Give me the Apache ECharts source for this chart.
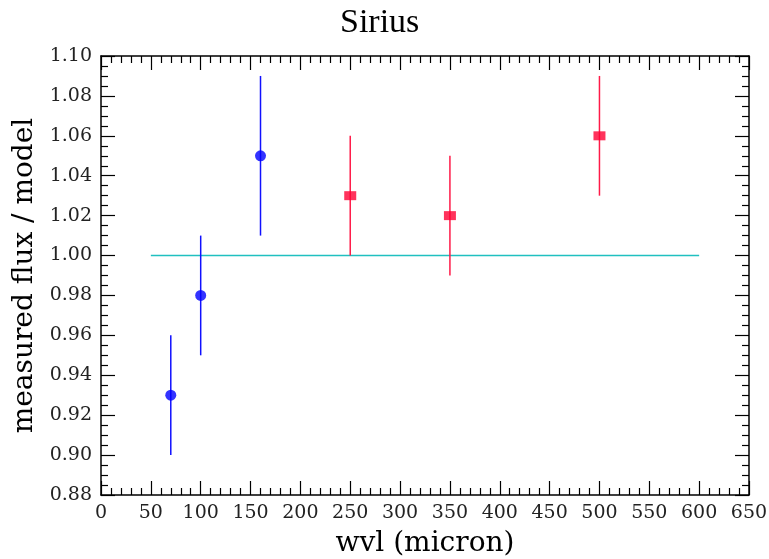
<!DOCTYPE html>
<html>
<head>
<meta charset="utf-8">
<script src="https://cdn.jsdelivr.net/npm/echarts@6/dist/echarts.min.js"></script>
<style>html,body{margin:0;padding:0;background:#fff}#c{width:769px;height:559px}</style>
</head>
<body>
<div id="c"></div>
<script>
const titleText = 'Sirius';
const xName = 'wvl (micron)';
const yName = 'measured flux / model';
const blueX = [70, 100, 160];
const blueY = [0.93, 0.98, 1.05];
const blueErr = [0.03, 0.03, 0.04];
const redX = [250, 350, 500];
const redY = [1.03, 1.02, 1.06];
const redErr = [0.03, 0.03, 0.03];
const refX = [50, 600];
const refY = [1.0, 1.0];

const font = 'DejaVu Serif';
const chart = echarts.init(document.getElementById('c'), null, {renderer: 'canvas'});

function errData(xs, ys, es) { return xs.map((x, i) => [x, ys[i] - es[i], ys[i] + es[i]]); }
function errSeries(xs, ys, es, color) {
  return {
    type: 'custom', xAxisIndex: 0, yAxisIndex: 0, z: 2,
    data: errData(xs, ys, es),
    encode: {x: 0, y: [1, 2]},
    renderItem: function (params, api) {
      const p1 = api.coord([api.value(0), api.value(1)]);
      const p2 = api.coord([api.value(0), api.value(2)]);
      return {type: 'line', shape: {x1: p1[0], y1: p1[1], x2: p2[0], y2: p2[1]},
        style: {stroke: color, lineWidth: 1.5}};
    }
  };
}
const axisCommon = {
  axisLine: {show: true, onZero: false, lineStyle: {color: '#000', width: 1.5}},
  axisTick: {show: true, inside: true, length: 14, lineStyle: {color: '#000', width: 1.2}},
  minorTick: {show: true, length: 7, lineStyle: {color: '#000', width: 1.2}},
  splitLine: {show: false}
};
const xBase = Object.assign({type: 'value', min: 0, max: 650, interval: 50}, axisCommon);
const yBase = Object.assign({type: 'value', min: 0.88, max: 1.10, interval: 0.02}, axisCommon);

chart.setOption({
  animation: false,
  backgroundColor: '#fff',
  title: {text: titleText, left: 335, top: 1,
    textStyle: {fontFamily: 'Liberation Serif', fontWeight: 'normal', fontSize: 34, color: '#000'}},
  grid: {left: 101, right: 20, top: 56, bottom: 64, outerBoundsMode: 'none', containLabel: false},
  xAxis: [
    Object.assign({}, xBase, {position: 'bottom', name: xName, nameLocation: 'middle', nameGap: 35,
      nameTextStyle: {fontFamily: font, fontSize: 28, color: '#000'},
      minorTick: Object.assign({}, axisCommon.minorTick, {splitNumber: 5}),
      axisLabel: {fontFamily: font, fontSize: 19, color: '#222', margin: 9}}),
    Object.assign({}, xBase, {position: 'top', axisLabel: {show: false},
      minorTick: Object.assign({}, axisCommon.minorTick, {splitNumber: 5})})
  ],
  yAxis: [
    Object.assign({}, yBase, {position: 'left', name: yName, nameLocation: 'middle', nameGap: 60,
      nameTextStyle: {fontFamily: font, fontSize: 28, color: '#000'},
      minorTick: Object.assign({}, axisCommon.minorTick, {splitNumber: 4}),
      axisLabel: {fontFamily: font, fontSize: 19, color: '#222', margin: 9,
        formatter: v => v.toFixed(2)}}),
    Object.assign({}, yBase, {position: 'right', axisLabel: {show: false},
      minorTick: Object.assign({}, axisCommon.minorTick, {splitNumber: 4})})
  ],
  series: [
    {type: 'line', data: refX.map((x, i) => [x, refY[i]]), symbol: 'none', z: 1,
      lineStyle: {color: '#20c0c0', width: 1.5}},
    errSeries(blueX, blueY, blueErr, '#1010ff'),
    errSeries(redX, redY, redErr, '#ff1a48'),
    {type: 'scatter', data: blueX.map((x, i) => [x, blueY[i]]), symbol: 'circle', symbolSize: 11, z: 3,
      itemStyle: {color: '#0000ff'}},
    {type: 'scatter', data: redX.map((x, i) => [x, redY[i]]), symbol: 'rect', symbolSize: [12, 9], z: 3,
      itemStyle: {color: '#ff0033'}}
  ]
});
</script>
</body>
</html>
